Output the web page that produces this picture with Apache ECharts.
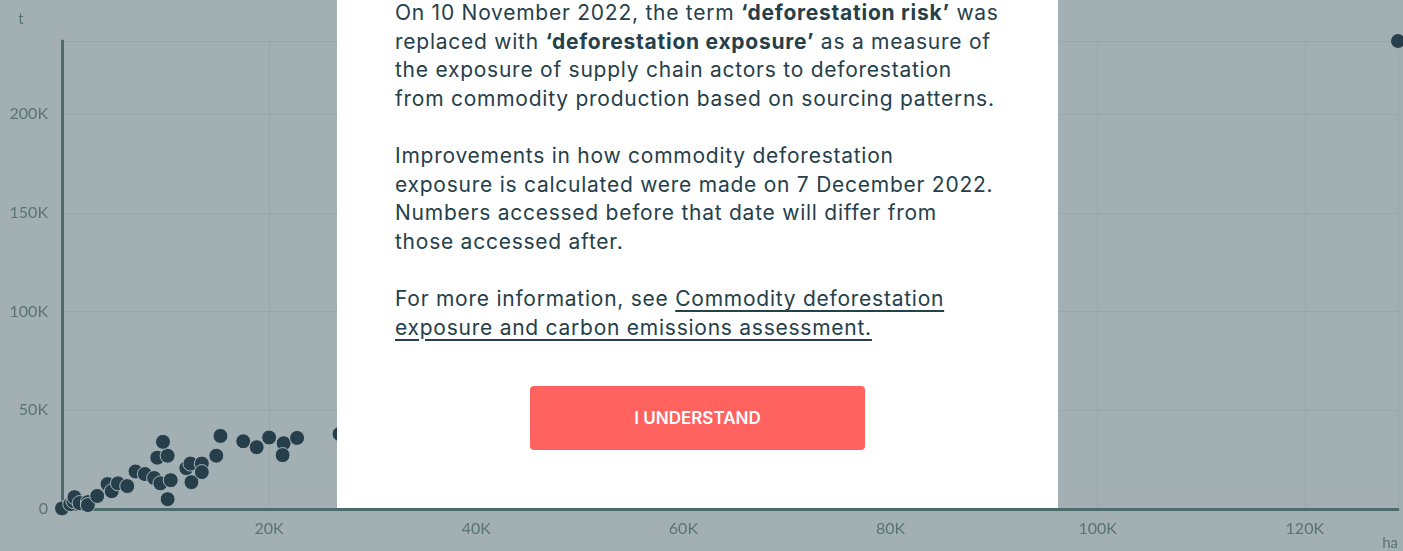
<!DOCTYPE html>
<html>
<head>
<meta charset="utf-8">
<script src="https://cdn.jsdelivr.net/npm/echarts@6/dist/echarts.min.js"></script>
<style>
  html, body { margin: 0; padding: 0; width: 1403px; height: 551px; overflow: hidden; background: #a2b0b4; }
  #chart { position: absolute; left: 0; top: 0; width: 1403px; height: 551px; }
  #modal {
    position: absolute; left: 337px; top: 0; width: 721px; height: 508px;
    background: #ffffff; box-sizing: border-box; padding-left: 58px;
    font-family: Inter, "Noto Sans", sans-serif; font-size: 21px; line-height: 28.6px;
    letter-spacing: 0.75px; color: #25404a;
  }
  #modal p { margin: 0 0 28.6px 0; white-space: nowrap; }
  #modal p.first { margin-top: -1px; }
  #modal a { color: #25404a; text-decoration: underline; text-underline-offset: 4px; }
  #btn {
    position: absolute; left: 193px; top: 386px; width: 335px; height: 64px;
    background: #ff625f; border-radius: 4px; color: #ffffff; letter-spacing: 0;
    font-size: 17px; font-weight: 600; line-height: 64px; text-align: center;
  }
</style>
</head>
<body>
<div id="chart"></div>
<div id="modal">
  <p class="first">On 10 November 2022, the term <b>‘deforestation risk’</b> was<br>replaced with <b>‘deforestation exposure’</b> as a measure of<br>the exposure of supply chain actors to deforestation<br>from commodity production based on sourcing patterns.</p>
  <p>Improvements in how commodity deforestation<br>exposure is calculated were made on 7 December 2022.<br>Numbers accessed before that date will differ from<br>those accessed after.</p>
  <p>For more information, see <a>Commodity deforestation<br>exposure and carbon emissions assessment.</a></p>
  <div id="btn">I UNDERSTAND</div>
</div>
<script>
// deforestation area (ha) vs volume (t)
var areaHa = [0, 800, 1100, 1200, 1700, 2500, 2500, 3400, 4400, 4800, 5400, 6300, 7100, 8000,
  8900, 9500, 10500, 10200, 9200, 10200, 9750, 12000, 12500, 12400, 13500, 13500, 14900,
  15300, 17500, 18800, 20000, 21400, 21300, 22700, 26800, 129000];
var volumeT = [300, 2500, 4000, 6000, 3000, 3500, 2000, 6600, 12600, 9000, 13000, 11600, 19000, 17700,
  15700, 13000, 14600, 5000, 26000, 27000, 34000, 20700, 13600, 23000, 23000, 18700, 27000,
  37000, 34300, 31300, 36200, 33300, 27300, 36000, 38000, 237000];

window.onload = function () {
  var chart = echarts.init(document.getElementById('chart'));

  var points = [];
  for (var i = 0; i < areaHa.length; i++) {
    points.push([areaHa[i], volumeT[i]]);
  }

  function fmtK(v) {
    return v === 0 ? '0' : (v / 1000) + 'K';
  }

  var labelStyle = { color: '#5a7473', fontFamily: 'Lato', fontSize: 16 };

  var option = {
    animation: false,
    backgroundColor: '#a2b0b4',
    grid: { left: 62, right: 5, top: 41, bottom: 40 },
    xAxis: {
      type: 'value', min: 0, max: 'dataMax', interval: 20000,
      name: 'ha', nameLocation: 'end', nameGap: 0,
      nameTextStyle: { color: '#5a7473', fontFamily: 'Lato', fontSize: 15, align: 'right', verticalAlign: 'top', padding: [27, 0, 0, 0] },
      axisLine: { lineStyle: { color: '#4e6b6c', width: 3 } },
      axisTick: { show: false },
      axisLabel: Object.assign({ formatter: fmtK, margin: 12, showMinLabel: false, showMaxLabel: false }, labelStyle),
      splitLine: { lineStyle: { color: '#98a7ab', width: 1 } }
    },
    yAxis: {
      type: 'value', min: 0, max: 'dataMax', interval: 50000,
      name: 't', nameLocation: 'end', nameGap: 14,
      nameTextStyle: { color: '#5a7473', fontFamily: 'Lato', fontSize: 15, align: 'center', padding: [0, 82, 0, 0] },
      axisLine: { show: true, lineStyle: { color: '#4e6b6c', width: 3 } },
      axisTick: { show: false },
      axisLabel: Object.assign({ formatter: fmtK, margin: 14, showMaxLabel: false }, labelStyle),
      splitLine: { lineStyle: { color: '#98a7ab', width: 1 } }
    },
    series: [{
      type: 'scatter',
      data: points,
      symbolSize: 15,
      clip: false,
      itemStyle: { color: '#263f4a', opacity: 1, borderColor: '#a9b6ba', borderWidth: 1 }
    }]
  };

  chart.setOption(option);
};
</script>
</body>
</html>
